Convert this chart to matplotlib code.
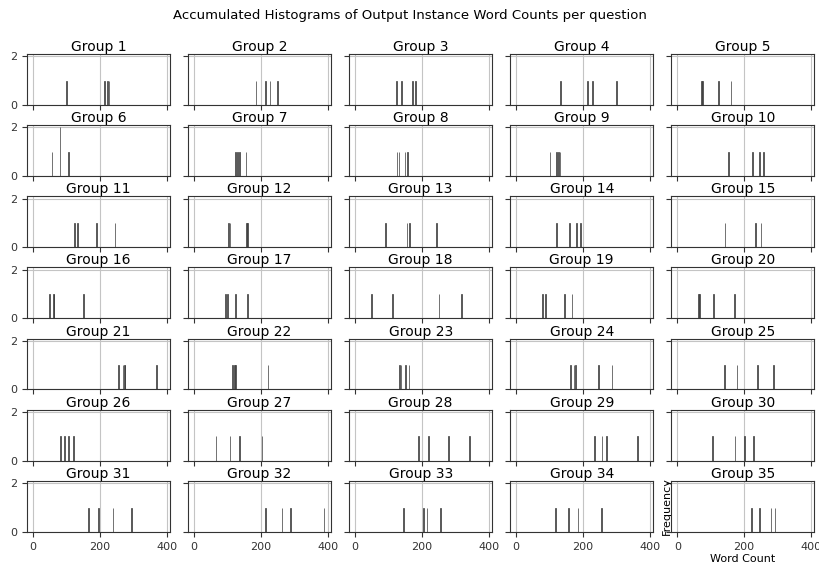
#!/usr/bin/env python3
"""Accumulated word count histograms, one small panel per question group."""

import matplotlib

matplotlib.use("Agg")
import matplotlib.pyplot as plt
import numpy as np

group_labels = [f"Group {i}" for i in range(1, 36)]

# word counts of the output instances, read per group (row-major, 5 per row)
word_counts = [
    [100, 212, 222, 226],
    [185, 212, 227, 248],
    [122, 139, 170, 180],
    [133, 213, 228, 301],
    [72, 74, 122, 160],
    [57, 80, 80, 107],
    [122, 128, 134, 155],
    [125, 131, 148, 156],
    [100, 121, 126, 131],
    [152, 225, 247, 258],
    [122, 132, 188, 244],
    [103, 107, 157, 159],
    [90, 154, 163, 242],
    [121, 158, 181, 193],
    [143, 235, 251],
    [48, 60, 63, 151],
    [93, 98, 123, 158],
    [49, 110, 251, 319],
    [79, 87, 144, 166],
    [63, 67, 109, 171],
    [255, 268, 272, 275, 369],
    [115, 120, 123, 220],
    [132, 136, 150, 160],
    [162, 173, 176, 246, 286],
    [140, 179, 241, 288],
    [82, 94, 106, 120],
    [64, 107, 135, 203],
    [189, 219, 279, 342],
    [235, 256, 271, 363],
    [105, 172, 201, 229],
    [165, 195, 239, 294],
    [212, 263, 289, 388],
    [144, 204, 215, 254],
    [117, 156, 185, 254],
    [223, 247, 281, 292],
]

x_ticks = [0, 200, 400]
y_ticks = [0, 2]
bins = np.arange(0, 402, 2)


def main():
    fig, axes = plt.subplots(7, 5, sharex=True, sharey=True, figsize=(8.2, 5.67), dpi=100)
    fig.subplots_adjust(left=0.033, right=0.993, top=0.905, bottom=0.062, wspace=0.126, hspace=0.40)
    axes = axes.reshape(-1)
    for ax, label, values in zip(axes, group_labels, word_counts):
        ax.hist(values, bins=bins, color="#5a5a5a", edgecolor="#3a3a3a", linewidth=0.5, zorder=3)
        ax.set_title(label, fontsize=10, pad=1.5)
        ax.grid(True, color="#c4c4c4", linewidth=0.8, zorder=0)
        ax.tick_params(labelsize=8, length=3.5, colors="#333333")
        for spine in ax.spines.values():
            spine.set_color("#333333")
    axes[0].set_xticks(x_ticks)
    axes[0].set_yticks(y_ticks)
    axes[0].set_xlim(-18, 410)
    axes[-1].set_xlabel("Word Count", fontsize=8, labelpad=2)
    axes[-1].set_ylabel("Frequency", fontsize=8, labelpad=-4)
    fig.suptitle(
        "Accumulated Histograms of Output Instance Word Counts per question",
        fontsize=9.5,
        y=0.985,
    )
    fig.savefig("out.png")
    plt.close(fig)


if __name__ == "__main__":
    main()
